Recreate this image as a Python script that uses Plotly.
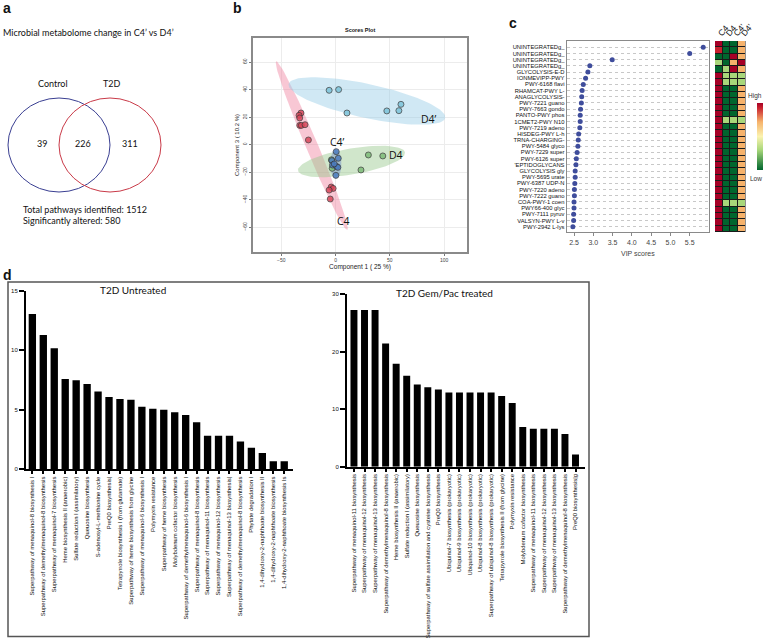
import numpy as np
import plotly.graph_objects as go

W, H = 765, 638

# ---- panel a: venn
venn_sets = ["Control", "T2D"]
venn_counts = [39, 226, 311]
venn_title = "Microbial metabolome change in C4’ vs D4’"
total_pathways = 1512
sig_altered = 580

# ---- panel b: PLS-DA scores (component 1 vs component 3)
c4_x = [-31.8, -33.6, -33.0, -33.0, -31.5, -28.1, -25.0, -4.0, -2.2, -5.9, -4.9]
c4_y = [23.0, 21.3, 19.4, 14.0, 14.0, 14.5, 3.4, -30.8, -31.8, -33.0, -39.5]
d4p_x = [-5.9, 2.8, 10.5, 47.2, 58.3, 60.2]
d4p_y = [39.5, 40.0, 23.0, 24.5, 24.7, 29.3]
d4_x = [30.2, 43.5, 23.4, -3.1, -3.8]
d4_y = [-7.5, -8.2, -18.4, -17.2, -11.0]
c4p_x = [0.6, 2.5, -3.4, -2.8, 0.9, 2.1, 0.3, -1.2]
c4p_y = [-5.1, -9.9, -11.6, -14.8, -15.8, -16.5, -22.3, -14.0]

# ---- panel c: VIP scores + heatmap
vip_labels = ["UNINTEGRATEDg_", "UNINTEGRATEDg_", "UNINTEGRATEDg_", "UNINTEGRATEDg_",
              "GLYCOLYSIS-E-D", "IONMEVIPP-PWY", "PWY-6168 flavi", "RHAMCAT-PWY L-",
              "ANAGLYCOLYSIS-", "PWY-7221 guano", "PWY-7663 gondo", "PANTO-PWY phos",
              "1CMET2-PWY N10", "PWY-7219 adeno", "HISDEG-PWY L-h", "TRNA-CHARGING-",
              "PWY-5484 glyco", "PWY-7229 super", "PWY-6126 super", "'EPTIDOGLYCANS",
              "GLYCOLYSIS gly", "PWY-5695 urate", "PWY-6387 UDP-N", "PWY-7220 adeno",
              "PWY-7222 guano", "COA-PWY-1 coen", "PWY66-400 glyc", "PWY-7111 pyruv",
              "VALSYN-PWY L-v", "PWY-2942 L-lys"]
vip_scores = [5.85, 5.50, 3.49, 2.91, 2.86, 2.80, 2.74, 2.71, 2.70, 2.69,
              2.67, 2.66, 2.66, 2.65, 2.62, 2.61, 2.60, 2.58, 2.56, 2.55,
              2.53, 2.53, 2.52, 2.51, 2.51, 2.50, 2.50, 2.49, 2.49, 2.47]
heat_groups = ["C4", "D4", "C4’", "D4’"]
DR, R, O, LG, G = 1.0, 0.93, 0.72, 0.3, 0.0
heat_z = [[DR, G, G, O], [R, G, G, O], [G, G, DR, O], [LG, G, O, DR], [G, LG, DR, O],
          [DR, LG, LG, LG], [DR, LG, LG, LG], [DR, G, G, O], [DR, G, G, O], [DR, G, G, O],
          [DR, G, G, O], [DR, G, G, O], [DR, LG, LG, LG], [DR, G, G, O], [DR, G, G, O],
          [DR, G, G, O], [DR, G, G, O], [DR, G, G, O], [DR, G, G, O], [DR, G, G, O],
          [DR, G, G, O], [DR, G, G, O], [DR, G, G, O], [DR, G, G, O], [DR, G, G, O],
          [DR, LG, LG, LG], [DR, G, G, O], [DR, G, G, O], [DR, G, G, O], [DR, G, G, O]]

# ---- panel d: bar charts
untreated_labels = [
    "Superpathway of menaquinol-8 biosynthesis I",
    "Superpathway of demethylmenaquinol-8 biosynthesis",
    "Superpathway of menaquinol-7 biosynthesis",
    "Heme biosynthesis II (anaerobic)",
    "Sulfate reduction I (assimilatory)",
    "Queuosine biosynthesis",
    "S-adenosyl-L-methionine cycle",
    "PreQ0 biosynthesis|",
    "Tetrapyrrole biosynthesis I (from glutamate)",
    "Superpathway of heme biosynthesis from glycine",
    "Superpathway of menaquinol-6 biosynthesis I",
    "Polymyxin resistance",
    "Superpathway of heme biosynthesis",
    "Molybdenum cofactor biosynthesis",
    "Superpathway of demethylmenaquinol-6 biosynthesis I",
    "Superpathway of menaquinol-8 biosynthesis",
    "Superpathway of menaquinol-11 biosynthesis",
    "Superpathway of menaquinol-12 biosynthesis",
    "Superpathway of menaquinol-13 biosynthesis|",
    "Superpathway of demethylmenaquinol-8 biosynthesis",
    "Phytate degradation I",
    "1,4-dihydroxy-2-naphthoate biosynthesis II",
    "1,4-dihydroxy-2-naphthoate biosynthesis",
    "1,4-dihydroxy-2-naphthoate biosynthesis Is"]
untreated_vals = [13.05, 11.27, 10.17, 7.58, 7.47, 7.16, 6.53, 6.08, 5.91, 5.85, 5.26, 5.09,
                  5.0, 4.8, 4.57, 3.95, 2.81, 2.81, 2.81, 2.33, 1.82, 1.36, 0.68, 0.68]
treated_labels = [
    "Superpathway of menaquinol-11 biosynthesis",
    "Superpathway of menaquinol-12 biosynthesis",
    "Superpathway of menaquinol-13 biosynthesis",
    "Superpathway of demethylmenaquinol-8 biosynthesis",
    "Heme biosynthesis II (anaerobic)",
    "Sulfate reduction I (assimilatory)",
    "Queuosine biosynthesis",
    "Superpathway of sulfate assimilation and cysteine biosynthesis",
    "PreQ0 biosynthesis",
    "Ubiquinol-7 biosynthesis (prokaryotic)",
    "Ubiquinol-9 biosynthesis (prokaryotic)",
    "Ubiquinol-10 biosynthesis (prokaryotic)",
    "Ubiquinol-8 biosynthesis (prokaryotic)",
    "Superpathway of ubiquinol-8 biosynthesis (prokaryotic)",
    "Tetrapyrrole biosynthesis II (from glycine)",
    "Polymyxin resistance",
    "Molybdenum cofactor biosynthesis",
    "Superpathway of menaquinol-11 biosynthesis",
    "Superpathway of menaquinol-12 biosynthesis",
    "Superpathway of menaquinol-13 biosynthesis",
    "Superpathway of demethylmenaquinol-8 biosynthesis",
    "PreQ0 biosynthesis|g"]
treated_vals = [27.2, 27.2, 27.2, 21.4, 17.9, 15.8, 14.3, 13.8, 13.4, 12.9, 12.9, 12.9,
                12.9, 12.9, 12.3, 11.05, 6.9, 6.6, 6.6, 6.6, 5.7, 2.1]


def px(x):
    return x / W


def py(y):
    return 1 - y / H


def ellipse(tip_a, tip_b, half_minor_px, n=90):
    # confidence ellipse drawn in screen space of the scores plot (1.08 px/unit x, 1.375 px/unit y)
    sx, sy = 1.08, 1.375
    ax, ay = tip_a[0] * sx, tip_a[1] * sy
    bx, by = tip_b[0] * sx, tip_b[1] * sy
    cx, cy = (ax + bx) / 2, (ay + by) / 2
    a = np.hypot(bx - ax, by - ay) / 2
    th = np.arctan2(by - ay, bx - ax)
    t = np.linspace(0, 2 * np.pi, n)
    ex = cx + a * np.cos(t) * np.cos(th) - half_minor_px * np.sin(t) * np.sin(th)
    ey = cy + a * np.cos(t) * np.sin(th) + half_minor_px * np.sin(t) * np.cos(th)
    return ex / sx, ey / sy


fig = go.Figure()

# scores plot ellipses
for (ta, tb, b, col) in [((-54.6, 60.5), (10.8, -62.0), 6, "rgba(240,130,160,0.45)"),
                         ((-43.2, 44.1), (100.9, 19.4), 17, "rgba(150,205,230,0.45)"),
                         ((-34.5, -18.9), (63.9, -5.6), 13, "rgba(150,200,140,0.45)"),
                         ((0.3, -3.1), (0.3, -24.9), 5.5, "rgba(110,140,205,0.45)")]:
    ex, ey = ellipse(ta, tb, b)
    fig.add_trace(go.Scatter(x=ex, y=ey, fill="toself", fillcolor=col, mode="lines",
                             line=dict(width=0), hoverinfo="skip", xaxis="x2", yaxis="y2"))

for xs, ys, col in [(c4_x, c4_y, "#d9475a"), (d4p_x, d4p_y, "#7cc3d9"),
                    (d4_x, d4_y, "#7dbb78"), (c4p_x, c4p_y, "#4c7dbf")]:
    fig.add_trace(go.Scatter(x=xs, y=ys, mode="markers", xaxis="x2", yaxis="y2",
                             marker=dict(size=6, color=col, opacity=0.85,
                                         line=dict(color="#333", width=0.8))))

# VIP dots
rows = list(range(1, len(vip_labels) + 1))
fig.add_trace(go.Scatter(x=vip_scores, y=rows, mode="markers", xaxis="x3", yaxis="y3",
                         marker=dict(size=5, color="#3f4d9c")))

# heatmap
fig.add_trace(go.Heatmap(z=heat_z, x=[0, 1, 2, 3], y=rows, xaxis="x4", yaxis="y4",
                         xgap=1, ygap=1, zmin=0, zmax=1,
                         colorscale=[[0, "#00662e"], [0.3, "#a8d77a"], [0.5, "#fbf3b0"],
                                     [0.72, "#f6b26b"], [0.93, "#c8202e"], [1, "#a50026"]],
                         colorbar=dict(x=px(757), xanchor="left", xpad=0, ypad=0,
                                       y=py(136.5), yanchor="middle",
                                       thickness=6, thicknessmode="pixels", len=67,
                                       lenmode="pixels", showticklabels=False, ticks="",
                                       outlinewidth=0)))

# bars
fig.add_trace(go.Bar(x=list(range(len(untreated_vals))), y=untreated_vals, width=0.67,
                     marker=dict(color="black", line=dict(width=0)), xaxis="x5", yaxis="y5"))
fig.add_trace(go.Bar(x=list(range(len(treated_vals))), y=treated_vals, width=0.66,
                     marker=dict(color="black", line=dict(width=0)), xaxis="x6", yaxis="y6"))

tick_font = dict(family="Liberation Sans, Arial", size=5, color="#444")
bar_lab_font = dict(family="Liberation Sans, Arial", size=5.9, color="#111")

fig.update_layout(
    width=W, height=H, margin=dict(l=0, r=0, t=0, b=0, autoexpand=False),
    paper_bgcolor="white", plot_bgcolor="white", showlegend=False,
    font=dict(family="Liberation Sans, Arial", color="#111"),
    xaxis=dict(visible=False, domain=[0, 0.01]),
    yaxis=dict(visible=False, domain=[0.99, 1]),
    xaxis2=dict(domain=[px(253), px(467)], range=[-76, 121], anchor="y2",
                tickvals=[-50, 0, 50, 100], tickfont=tick_font, ticks="outside", ticklen=2,
                tickcolor="#777", showgrid=True, gridcolor="#ececec", zeroline=False,
                showline=True, linecolor="#8a8a8a", linewidth=1.5, mirror=True,
                title=dict(text="Component 1 ( 25 %)", font=dict(size=6.5, color="#222"),
                           standoff=2)),
    yaxis2=dict(domain=[py(252), py(38)], range=[-78, 77.5], anchor="x2",
                tickvals=[-60, -40, -20, 0, 20, 40, 60], tickangle=-90, tickfont=tick_font,
                ticks="outside", ticklen=2, tickcolor="#777",
                showgrid=True, gridcolor="#ececec", zeroline=False,
                showline=True, linecolor="#8a8a8a", linewidth=1.5, mirror=True,
                title=dict(text="Component 3 ( 10.2 %)", font=dict(size=6, color="#222"),
                           standoff=2)),
    xaxis3=dict(domain=[px(566.7), px(709)], range=[2.31, 6.0], anchor="y3",
                tickvals=[2.5, 3.0, 3.5, 4.0, 4.5, 5.0, 5.5],
                ticktext=["2.5", "3.0", "3.5", "4.0", "4.5", "5.0", "5.5"],
                tickfont=dict(size=7, color="#444"), ticks="outside", ticklen=3,
                tickcolor="#888", showgrid=False, zeroline=False,
                showline=True, linecolor="#8a8a8a", linewidth=1.2, mirror=True,
                title=dict(text="VIP scores", font=dict(size=7, color="#444"), standoff=6)),
    yaxis3=dict(domain=[py(232), py(41)], range=[30.86, -0.02], anchor="x3",
                tickvals=rows, ticktext=vip_labels, ticks="",
                tickfont=dict(family="Liberation Sans, Arial", size=5.8, color="#111"),
                showgrid=True, gridcolor="#c8c8c8", griddash="dot", gridwidth=0.6,
                zeroline=False, showline=True, linecolor="#8a8a8a", linewidth=1.2, mirror=True),
    xaxis4=dict(domain=[px(715), px(745.7)], range=[-0.5, 3.5], anchor="y4", side="top",
                tickvals=[0, 1, 2, 3], ticktext=heat_groups, tickangle=-50, ticks="",
                tickfont=dict(size=8.5, color="#111"), showgrid=False, zeroline=False),
    yaxis4=dict(domain=[py(232), py(41)], range=[30.5, 0.5], anchor="x4",
                showticklabels=False, ticks="", showgrid=False, zeroline=False),
    xaxis5=dict(domain=[px(26), px(293)], range=[-0.58, 23.8], anchor="y5",
                tickvals=list(range(len(untreated_labels))), ticktext=untreated_labels,
                tickangle=-90, tickfont=bar_lab_font, ticks="outside", ticklen=3,
                tickwidth=1.5, tickcolor="black", showline=True, linecolor="black",
                linewidth=2, showgrid=False, zeroline=False),
    yaxis5=dict(domain=[py(469.3), py(290.7)], range=[0, 15], anchor="x5",
                tickvals=[0, 5, 10, 15], tickfont=dict(size=6, color="#111"),
                ticks="outside", ticklen=5, tickwidth=2, tickcolor="black",
                showline=True, linecolor="black", linewidth=2, showgrid=False, zeroline=False),
    xaxis6=dict(domain=[px(347), px(585)], range=[-0.66, 21.9], anchor="y6",
                tickvals=list(range(len(treated_labels))), ticktext=treated_labels,
                tickangle=-90, tickfont=bar_lab_font, ticks="outside", ticklen=3,
                tickwidth=1.5, tickcolor="black", showline=True, linecolor="black",
                linewidth=2, showgrid=False, zeroline=False),
    yaxis6=dict(domain=[py(466.7), py(294)], range=[0, 30], anchor="x6",
                tickvals=[0, 10, 20, 30], tickfont=dict(size=6, color="#111"),
                ticks="outside", ticklen=5, tickwidth=2, tickcolor="black",
                showline=True, linecolor="black", linewidth=2, showgrid=False, zeroline=False),
)

shapes = [
    # venn circles
    dict(type="circle", xref="paper", yref="paper", x0=px(8), x1=px(110), y0=py(192), y1=py(98),
         line=dict(color="#3a3f92", width=1)),
    dict(type="circle", xref="paper", yref="paper", x0=px(59), x1=px(161), y0=py(192), y1=py(98),
         line=dict(color="#c93a48", width=1)),
    # heatmap background (black cell borders)
    dict(type="rect", xref="x4", yref="y4", x0=-0.5, x1=3.5, y0=0.5, y1=30.5, layer="below",
         fillcolor="#1a1a1a", line=dict(width=0)),
    # panel d frame
    dict(type="rect", xref="paper", yref="paper", x0=px(8), x1=px(589), y0=py(636.5), y1=py(282),
         line=dict(color="#555", width=1.5)),
]

ann = []


def note(x, y, text, size=9, bold=False, xanchor="left", color="#111", family="Lato, Liberation Sans"):
    ann.append(dict(x=px(x), y=py(y), xref="paper", yref="paper", showarrow=False,
                    text=f"<b>{text}</b>" if bold else text, xanchor=xanchor, yanchor="middle",
                    font=dict(size=size, color=color, family=family)))


note(1, 8, "a", 14, True, family="Liberation Sans")
note(231, 8, "b", 14, True, family="Liberation Sans")
note(507, 23, "c", 14, True, family="Liberation Sans")
note(1, 275, "d", 14, True, family="Liberation Sans")

note(1, 32, venn_title, 9)
note(52.5, 83, venn_sets[0], 9, xanchor="center")
note(112, 83, venn_sets[1], 9, xanchor="center")
note(42, 143, str(venn_counts[0]), 9, xanchor="center")
note(83, 143, str(venn_counts[1]), 9, xanchor="center")
note(130, 143, str(venn_counts[2]), 9, xanchor="center")
note(21, 209, f"Total pathways identified: {total_pathways}", 9)
note(21, 221, f"Significantly altered: {sig_altered}", 9)

note(360, 30, "Scores Plot", 5.5, True, xanchor="center", family="Liberation Sans")
note(429, 119, "D4’", 10.5, xanchor="center", family="Open Sans")
note(337, 142, "C4’", 10.5, xanchor="center", family="Open Sans")
note(396, 154.5, "D4", 10.5, xanchor="center", family="Open Sans")
note(343, 221, "C4", 10.5, xanchor="center", family="Open Sans")

note(764, 96, "High", 6.5, xanchor="right", color="#333", family="Liberation Sans")
note(764, 178, "Low", 6.5, xanchor="right", color="#333", family="Liberation Sans")

note(133, 290, "T2D Untreated", 10, xanchor="center")
note(444.5, 293, "T2D Gem/Pac treated", 10, xanchor="center")

fig.update_layout(shapes=shapes, annotations=ann)
fig.write_html("out.html", config={"displayModeBar": False},
               post_script="document.body.style.margin='0px';document.body.style.overflow='hidden';")
